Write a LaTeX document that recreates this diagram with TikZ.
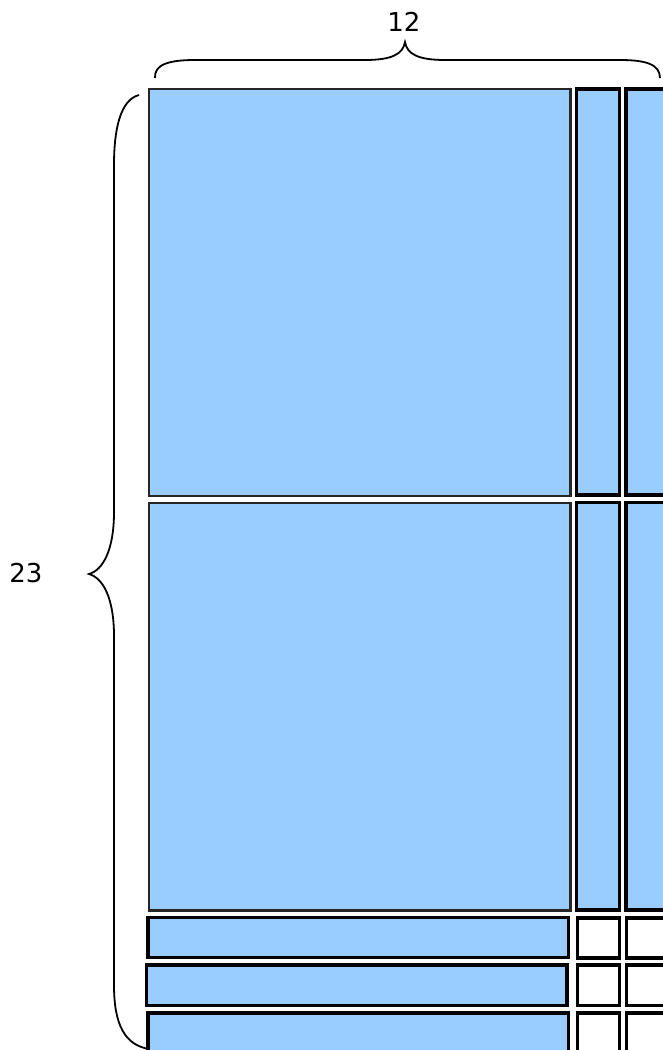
\documentclass[tikz,border=0pt]{standalone}
\usepackage{fontspec}
\setmainfont{DejaVu Sans}
\begin{document}
\begin{tikzpicture}[x=0.75pt,y=-0.75pt,
  big/.style={draw=black!85,fill=blue1,line width=1.6pt},
  bar/.style={draw=black,fill=blue1,line width=2.3pt},
  cell/.style={draw=black,fill=white,line width=2.3pt},
  brc/.style={draw=black,line width=1.35pt},
  lbl/.style={font=\fontsize{19.5}{22}\selectfont,text=black}]
\definecolor{blue1}{RGB}{153,204,255}
\useasboundingbox (0,0) rectangle (663,1050);
\clip (0,0) rectangle (663,1050);
% big squares
\draw[big] (149,89) rectangle (570.5,495.8);
\draw[big] (149,503.3) rectangle (570.5,910.5);
% column bars
\draw[bar] (576.5,89) rectangle (619.3,495);
\draw[bar] (626,89) rectangle (670,495);
\draw[bar] (576.5,502.5) rectangle (619.3,910);
\draw[bar] (626,502.5) rectangle (670,910);
% bottom rows
\draw[bar] (148,917.5) rectangle (568.8,957.8);
\draw[bar] (146.3,965) rectangle (567,1005.5);
\draw[bar] (148,1013) rectangle (568.8,1060);
% small cells
\draw[cell] (577.5,918) rectangle (619.3,958);
\draw[cell] (626.5,918) rectangle (670,958);
\draw[cell] (577.5,965) rectangle (619.3,1005.5);
\draw[cell] (626.5,965) rectangle (670,1005.5);
\draw[cell] (577.5,1013) rectangle (619.3,1060);
\draw[cell] (626.5,1013) rectangle (670,1060);
% top brace
\coordinate (tl) at (155,78);
\coordinate (tr) at (660,78);
\coordinate (tt) at (405,42);
\draw[brc] (tl) .. controls (154,64) and (170,60) .. (195,60)
  -- (365,60) .. controls (392,60) and (403,54) .. (tt)
  .. controls (407,54) and (418,60) .. (445,60)
  -- (620,60) .. controls (645,60) and (660,64) .. (tr);
\node[lbl] (n12) at (404,22) {12};
% left brace
\coordinate (lt) at (139,95);
\coordinate (lb) at (149,1049);
\coordinate (lm) at (89,574);
\draw[brc] (lt) .. controls (120,100) and (114,130) .. (114,165)
  -- (114,512) .. controls (114,550) and (103,570) .. (lm)
  .. controls (103,578) and (114,598) .. (114,636)
  -- (114,985) .. controls (114,1025) and (125,1045) .. (lb);
\node[lbl] (n23) at (26,573) {23};
\end{tikzpicture}
\end{document}
